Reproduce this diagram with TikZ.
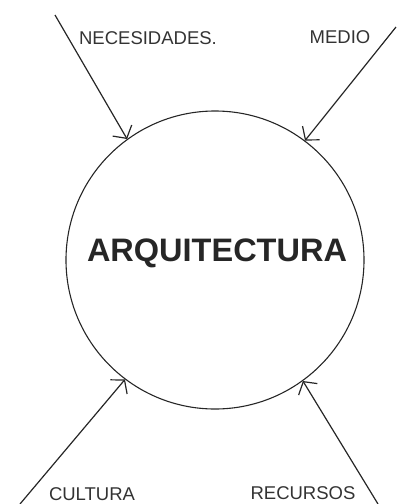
\documentclass[tikz,border=0pt]{standalone}
\usepackage{fontspec}
\setmainfont{Liberation Sans}
\usetikzlibrary{arrows.meta}
\begin{document}
\begin{tikzpicture}[x=1pt,y=-1pt,
  ring/.style={draw=black!85, line width=1.1pt, circle, minimum size=298pt, inner sep=0pt},
  flow/.style={draw=black!85, line width=1.2pt, -{Straight Barb[length=9pt,width=22pt,line width=1.2pt]}},
  lbl/.style={font=\fontsize{18.5}{18.5}\selectfont, text=black!80, inner sep=0pt},
  title/.style={font=\fontsize{32.5}{32.5}\selectfont\bfseries, text=black!85, inner sep=0pt}]
\useasboundingbox (0,0) rectangle (397,504);
\node[ring] (c) at (215,260) {};
\node[title] (t) at (217,253) {ARQUITECTURA};
\coordinate (s1) at (55,15);
\coordinate (s2) at (396,27);
\coordinate (s3) at (20,504);
\coordinate (s4) at (378,504);
\draw[flow] (s1) -- (c.126.7);
\draw[flow] (s2) -- (c.53.8);
\draw[flow] (s3) -- (c.233.7);
\draw[flow] (s4) -- (c.306.9);
\node[lbl] (n1) at (148,38) {NECESIDADES.};
\node[lbl] (n2) at (340,37) {MEDIO};
\node[lbl] (n3) at (92,494) {CULTURA};
\node[lbl] (n4) at (303,493) {RECURSOS};
\end{tikzpicture}
\end{document}
